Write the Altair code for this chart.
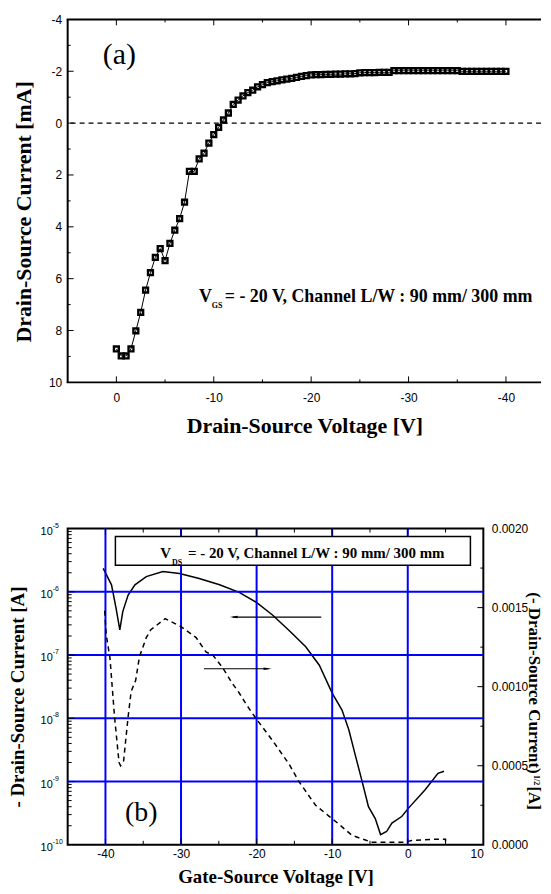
import altair as alt
import pandas as pd

# ---------------- panel (a): output characteristic ----------------
vds = [0.0, -0.5, -1.0, -1.5, -2.0, -2.5, -3.0, -3.5, -4.0, -4.5,
       -5.0, -5.5, -6.0, -6.5, -7.0, -7.5, -8.0, -8.5, -9.0, -9.5,
       -10.0, -10.5, -11.0, -11.5, -12.0, -12.5, -13.0, -13.5, -14.0, -14.5,
       -15.0, -15.5, -16.0, -16.5, -17.0, -17.5, -18.0, -18.5, -19.0, -19.5,
       -20.0, -20.5, -21.0, -21.5, -22.0, -22.5, -23.0, -23.5, -24.0, -24.5,
       -25.0, -25.5, -26.0, -26.5, -27.0, -27.5, -28.0, -28.5, -29.0, -29.5,
       -30.0, -30.5, -31.0, -31.5, -32.0, -32.5, -33.0, -33.5, -34.0, -34.5,
       -35.0, -35.5, -36.0, -36.5, -37.0, -37.5, -38.0, -38.5, -39.0, -39.5,
       -40.0]
ids_ma = [8.71, 8.98, 8.98, 8.71, 8.01, 7.30, 6.44, 5.77, 5.18, 4.84,
          5.30, 4.64, 4.13, 3.68, 3.05, 1.86, 1.86, 1.38, 1.16, 0.77,
          0.44, 0.16, -0.12, -0.39, -0.72, -0.89, -1.05, -1.18, -1.27, -1.40,
          -1.48, -1.56, -1.60, -1.63, -1.67, -1.70, -1.73, -1.76, -1.80, -1.83,
          -1.86, -1.87, -1.87, -1.88, -1.88, -1.89, -1.89, -1.90, -1.90, -1.91,
          -1.94, -1.95, -1.95, -1.95, -1.96, -1.96, -1.96, -2.02, -2.02, -2.02,
          -2.02, -2.02, -2.02, -2.02, -2.02, -2.02, -2.02, -2.02, -2.02, -2.02,
          -2.02, -2.00, -2.00, -2.00, -2.00, -2.00, -2.00, -2.00, -2.00, -2.00,
          -2.00]

a_x_labels = [0, -10, -20, -30, -40]
a_x_minor = [-5, -15, -25, -35]
a_y_labels = [-4, -2, 0, 2, 4, 6, 8, 10]
a_y_major = [-2, 0, 2, 4, 6, 8]
a_y_minor = [-3, -1, 1, 3, 5, 7, 9]

# ---------------- panel (b): transfer characteristic ----------------
vgs_log = [-40.3, -39.2, -38.6, -38.1, -37.7, -37.0, -36.1, -34.6, -32.4, -30.2,
           -27.6, -24.9, -22.3, -20.1, -17.9, -15.7, -13.5, -11.7, -10.0, -8.7,
           -7.8, -6.9, -6.1, -5.2, -4.3, -3.6, -2.8, -2.1, -0.8, 0.1,
           2.3, 4.0, 4.8]
ids_log = [2.34e-6, 1.29e-6, 5.5e-7, 2.5e-7, 4.9e-7, 8.9e-7, 1.29e-6, 1.74e-6, 2.09e-6, 1.95e-6,
           1.62e-6, 1.29e-6, 9.8e-7, 6.9e-7, 4.3e-7, 2.45e-7, 1.35e-7, 6.9e-8, 2.5e-8, 1.35e-8,
           6.6e-9, 2.5e-9, 1.07e-9, 4.0e-10, 2.6e-10, 1.45e-10, 1.62e-10, 2.2e-10, 2.8e-10, 3.8e-10,
           7.4e-10, 1.35e-9, 1.45e-9]

vgs_sqrt = [-40.1, -39.9, -39.4, -38.8, -38.2, -38.0, -37.6, -37.0, -36.6, -36.0,
            -35.5, -34.6, -34.0, -32.1, -30.0, -28.0, -26.7, -25.8, -24.5, -23.2,
            -22.3, -21.4, -20.1, -17.9, -15.7, -14.4, -12.2, -10.4, -9.1, -7.4,
            -5.6, -4.8, -0.4, 0.5, 3.6, 5.0, 5.0]
sqrt_ids = [0.00148, 0.00133, 0.00118, 0.00081, 0.00052, 0.00050, 0.00053, 0.00081, 0.00097, 0.00104,
            0.00119, 0.00131, 0.00136, 0.00143, 0.00138, 0.00131, 0.00122, 0.00120, 0.00112, 0.00102,
            0.00096, 0.00089, 0.00080, 0.00066, 0.00051, 0.00040, 0.00025, 0.00018, 0.00013, 0.00006,
            0.00003, 0.000016, 0.000016, 0.000027, 0.000035, 0.000035, 0.0]

b_x_labels = [-40, -30, -20, -10, 0, 10]
b_x_grid = [-40, -30, -20, -10, 0]
b_x_minor = [-35, -25, -15, -5, 5]
b_decades = [1e-5, 1e-6, 1e-7, 1e-8, 1e-9, 1e-10]
b_exps = ["-5", "-6", "-7", "-8", "-9", "-10"]
b_y_grid = [1e-6, 1e-7, 1e-8, 1e-9]
b_y_minor = [k * 10.0 ** d for d in range(-10, -5) for k in range(2, 10)]
b_r_labels = [0.0, 0.0005, 0.0010, 0.0015, 0.0020]
b_r_major = [0.0005, 0.0010, 0.0015]
b_r_minor = [0.00025, 0.00075, 0.00125, 0.00175]

W1, H1 = 476, 365
W2, H2 = 418, 318
SERIF = "Liberation Serif"
SANS = "Liberation Sans"
one = pd.DataFrame({"k": [0]})
PLAIN = "'' + datum.value"


def txt(x, y, s, size, weight="bold", align="left", baseline="alphabetic", angle=0, font=SERIF):
    return alt.Chart(one).mark_text(
        align=align, baseline=baseline, font=font, fontSize=size,
        fontWeight=weight, angle=angle, color="black"
    ).encode(x=alt.value(x), y=alt.value(y), text=alt.value(s))


# ---------------- panel (a) ----------------
xs1 = alt.Scale(domain=[-43.6, 5], reverse=True, nice=False, zero=False)
ys1 = alt.Scale(domain=[-4, 10], reverse=True, nice=False, zero=False)
ax1 = alt.Axis(values=a_x_labels, labelExpr=PLAIN, ticks=False, domain=False, grid=False,
               labelPadding=10, title="Drain-Source Voltage [V]", titlePadding=12, titleFontSize=22)
ay1 = alt.Axis(values=a_y_labels, labelExpr=PLAIN, ticks=False, domain=False, grid=False, labelPadding=6,
               title="Drain-Source Current [mA]", titleFontSize=22, titleAngle=270,
               titleBaseline="bottom", titleX=-32, titleY=193)


def X1(f):
    return alt.X(f, scale=xs1, axis=ax1)


def Y1(f):
    return alt.Y(f, scale=ys1, axis=ay1)


df_a = pd.DataFrame({"V": vds, "I": ids_ma})
line_a = alt.Chart(df_a).mark_line(color="black", strokeWidth=1).encode(x=X1("V:Q"), y=Y1("I:Q"))
pts_a = alt.Chart(df_a).mark_point(shape="square", filled=False, color="black",
                                   strokeWidth=2.4, size=24, opacity=1).encode(x=X1("V:Q"), y=Y1("I:Q"))
zero_line = alt.Chart(pd.DataFrame({"z": [0]})).mark_rule(
    color="black", strokeWidth=1.2, strokeDash=[5, 4]).encode(y=Y1("z:Q"))


def xt1(vals, length):
    df = pd.DataFrame({"t": vals})
    b = alt.Chart(df).mark_rule(color="black", strokeWidth=1)
    return [b.encode(x=X1("t:Q"), y=alt.value(H1), y2=alt.value(H1 - length)),
            b.encode(x=X1("t:Q"), y=alt.value(0), y2=alt.value(length))]


def yt1(vals, length):
    return alt.Chart(pd.DataFrame({"t": vals})).mark_rule(color="black", strokeWidth=1).encode(
        y=Y1("t:Q"), x=alt.value(0), x2=alt.value(length))


frame = alt.Chart(one).mark_rule(color="black", strokeWidth=2)
top_layers = [line_a, pts_a, zero_line,
              frame.encode(x=alt.value(0), y=alt.value(0), y2=alt.value(H1)),
              frame.encode(y=alt.value(0), x=alt.value(-1), x2=alt.value(W1)),
              frame.encode(y=alt.value(H1), x=alt.value(-1), x2=alt.value(W1))]
top_layers += xt1(a_x_labels, 6) + xt1(a_x_minor, 3)
top_layers += [yt1(a_y_major, 6), yt1(a_y_minor, 3)]
top_layers += [
    txt(52, 36, "(a)", 30, weight="normal", align="center", baseline="middle"),
    txt(132, 284, "V", 18),
    txt(145, 290, "GS", 8),
    txt(158, 284, "= - 20 V, Channel L/W : 90 mm/ 300 mm", 18),
]
top = alt.layer(*top_layers).properties(width=W1, height=H1,
                                        view=alt.ViewBackground(stroke="transparent"))

# ---------------- panel (b) ----------------
xs2 = alt.Scale(domain=[-45, 10], nice=False, zero=False)
ys_log = alt.Scale(type="log", domain=[1e-10, 1e-5], nice=False)
ys_lin = alt.Scale(domain=[0, 0.002], nice=False, zero=False)
ax2 = alt.Axis(values=b_x_labels, labelExpr=PLAIN, ticks=False, domain=False, grid=False, labelPadding=4,
               title="Gate-Source Voltage [V]", titlePadding=8, titleFontSize=19)
ayl = alt.Axis(labels=False, ticks=False, domain=False, grid=False,
               title="- Drain-Source Current [A]", titleFontSize=19, titleAngle=270,
               titleBaseline="bottom", titleX=-40, titleY=169)
ayr = alt.Axis(orient="right", values=b_r_labels, format=".4f", ticks=False, domain=False, grid=False,
               labelPadding=8, title="(- Drain-Source Current)\u00a0\u00a0\u00a0[A]", titleFontSize=17,
               titleAngle=90, titleBaseline="bottom", titleX=41, titleY=173)


def X2(f):
    return alt.X(f, scale=xs2, axis=ax2)


def YL(f):
    return alt.Y(f, scale=ys_log, axis=ayl)


def YR(f):
    return alt.Y(f, scale=ys_lin, axis=ayr)


BLUE = "#0000ff"
solid = alt.Chart(pd.DataFrame({"V": vgs_log, "I": ids_log})).mark_line(
    color="black", strokeWidth=1.5).encode(x=X2("V:Q"), y=YL("I:Q"))
grid_x = alt.Chart(pd.DataFrame({"g": b_x_grid})).mark_rule(color=BLUE, strokeWidth=2).encode(x=X2("g:Q"))
grid_y = alt.Chart(pd.DataFrame({"g": b_y_grid})).mark_rule(color=BLUE, strokeWidth=2).encode(y=YL("g:Q"))


def xt2(vals, length):
    df = pd.DataFrame({"t": vals})
    b = alt.Chart(df).mark_rule(color="black", strokeWidth=1)
    return [b.encode(x=X2("t:Q"), y=alt.value(H2), y2=alt.value(H2 - length)),
            b.encode(x=X2("t:Q"), y=alt.value(0), y2=alt.value(length))]


def ytl(vals, length):
    return alt.Chart(pd.DataFrame({"t": vals})).mark_rule(color="black", strokeWidth=1).encode(
        y=YL("t:Q"), x=alt.value(0), x2=alt.value(length))


lab_df = pd.DataFrame({"v": b_decades, "e": b_exps})
lab10 = alt.Chart(lab_df).mark_text(align="right", baseline="middle", font=SANS, fontSize=11,
                                     dy=3, color="black").encode(
    x=alt.value(-15), y=YL("v:Q"), text=alt.value("10"))
labexp = alt.Chart(lab_df).mark_text(align="left", baseline="middle", font=SANS, fontSize=7,
                                      dy=-3, color="black").encode(
    x=alt.value(-15), y=YL("v:Q"), text="e:N")

box = alt.Chart(one).mark_rect(fill="white", stroke="black", strokeWidth=1.5).encode(
    x=alt.value(48), x2=alt.value(405), y=alt.value(8), y2=alt.value(37))
arrow_l_shaft = alt.Chart(one).mark_rule(color="black", strokeWidth=1.2).encode(
    x=alt.value(166), x2=alt.value(255), y=alt.value(89))
arrow_l_head = alt.Chart(one).mark_point(shape="M1,-0.3L-1,0L1,0.3Z", filled=True, color="black",
                                         size=64, opacity=1).encode(x=alt.value(167), y=alt.value(89))
arrow_r_shaft = alt.Chart(one).mark_rule(color="black", strokeWidth=1.2).encode(
    x=alt.value(137), x2=alt.value(202), y=alt.value(141))
arrow_r_head = alt.Chart(one).mark_point(shape="M-1,-0.3L1,0L-1,0.3Z", filled=True, color="black",
                                         size=64, opacity=1).encode(x=alt.value(201), y=alt.value(141))

left_layers = [solid, grid_x, grid_y]
left_layers += xt2(b_x_grid, 6) + xt2(b_x_minor, 4)
left_layers += [ytl(b_decades[1:-1], 7), ytl(b_y_minor, 4)]
left_layers += [lab10, labexp, box,
                txt(93, 30, "V", 15), txt(105, 37, "DS", 8),
                txt(121, 30, "= - 20 V, Channel L/W : 90 mm/ 300 mm", 15),
                arrow_l_shaft, arrow_l_head, arrow_r_shaft, arrow_r_head,
                txt(74, 286, "(b)", 28, weight="normal", align="center", baseline="middle"),
                txt(W2 + 53, 253, "1/2", 8, align="center", baseline="middle", angle=90)]
left = alt.layer(*left_layers)

dashed = alt.Chart(pd.DataFrame({"V": vgs_sqrt, "S": sqrt_ids, "i": list(range(len(vgs_sqrt)))})).mark_line(
    color="black", strokeWidth=1.5, strokeDash=[5, 4]).encode(x=X2("V:Q"), y=YR("S:Q"), order="i:Q")
rt_major = alt.Chart(pd.DataFrame({"t": b_r_major})).mark_rule(color="black", strokeWidth=1).encode(
    y=YR("t:Q"), x=alt.value(W2), x2=alt.value(W2 - 6))
rt_minor = alt.Chart(pd.DataFrame({"t": b_r_minor})).mark_rule(color="black", strokeWidth=1).encode(
    y=YR("t:Q"), x=alt.value(W2), x2=alt.value(W2 - 3))
right = alt.layer(dashed, rt_major, rt_minor)

bottom = alt.layer(left, right).resolve_scale(y="independent").properties(width=W2, height=H2)

chart = alt.vconcat(top, bottom, spacing=147, bounds="flush",
                    padding={"left": 0, "top": 2, "right": 0, "bottom": 0}).configure_view(
    stroke="black", strokeWidth=2).configure_axis(
    labelFont=SANS, labelFontSize=12, labelColor="black",
    titleFont=SERIF, titleFontWeight="bold", titleColor="black")

chart.save("out.html", embed_options={"renderer": "svg", "actions": False})
